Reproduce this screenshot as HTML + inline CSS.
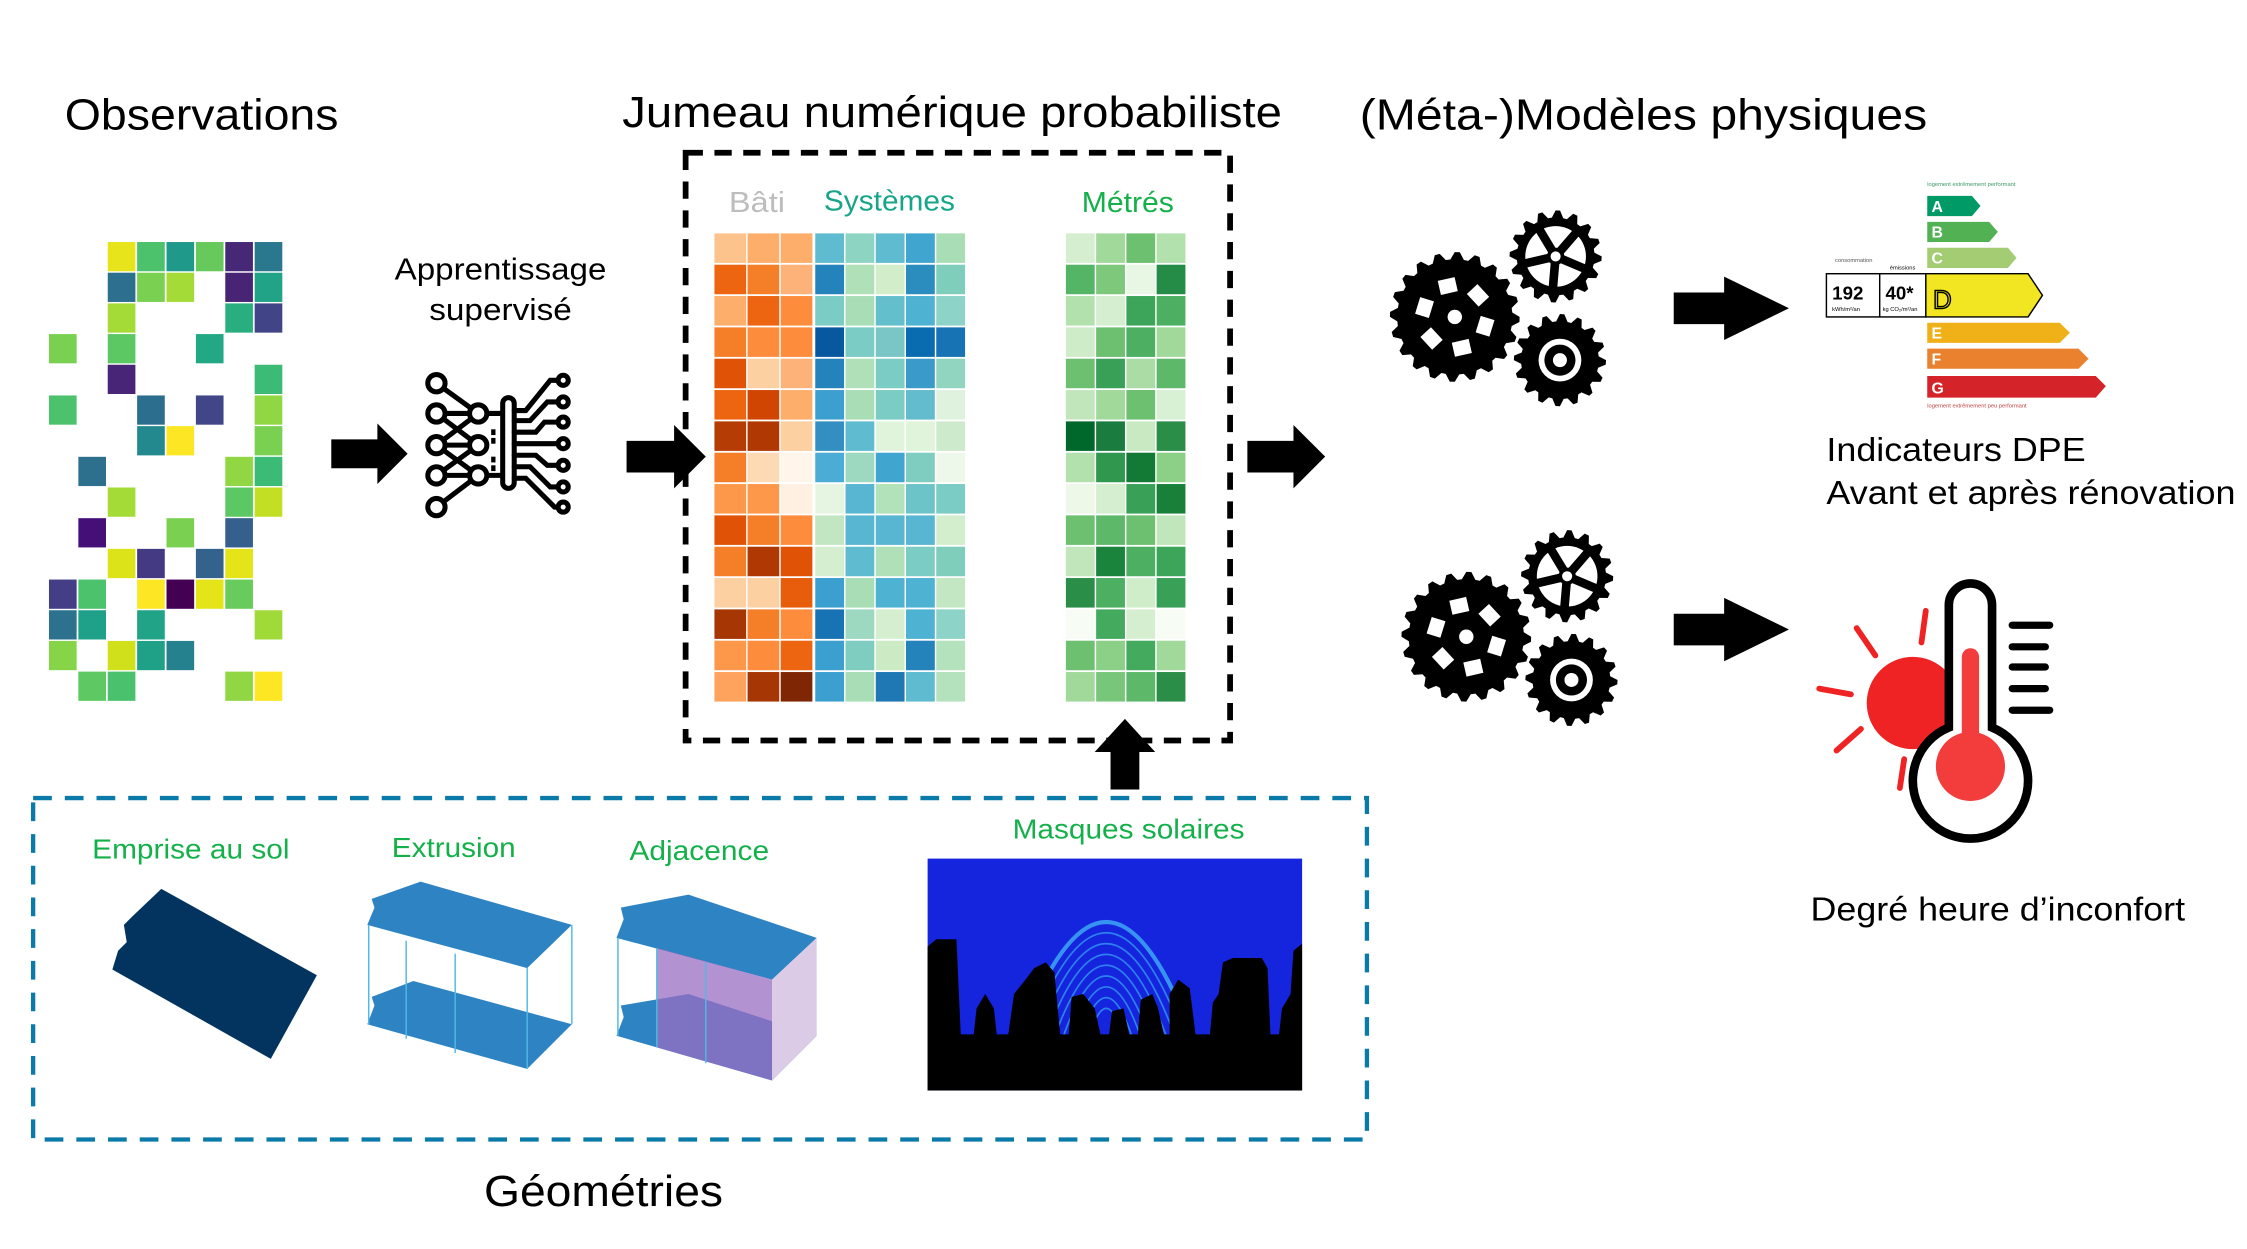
<!DOCTYPE html>
<html><head><meta charset="utf-8">
<style>
html,body{margin:0;padding:0;background:#fff;}
svg{display:block;}
text{font-family:"Liberation Sans",Arial,sans-serif;}
</style></head>
<body>
<svg id="s" width="2247" height="1249" viewBox="0 0 1560 867" preserveAspectRatio="none" xmlns="http://www.w3.org/2000/svg">
<rect width="1560" height="867" fill="#fff"/>
<!-- titles -->
<text x="45" y="90" font-size="30" textLength="190" lengthAdjust="spacingAndGlyphs">Observations</text>
<text x="432" y="88" font-size="30" textLength="458" lengthAdjust="spacingAndGlyphs">Jumeau numérique probabiliste</text>
<text x="944" y="90" font-size="30" textLength="394" lengthAdjust="spacingAndGlyphs">(Méta-)Modèles physiques</text>

<g id="obs"></g>
<g id="heat"></g>

<!-- dashed black box -->
<rect x="476" y="106" width="378" height="408" fill="none" stroke="#000" stroke-width="4" stroke-dasharray="12,8"/>
<text x="506" y="147" font-size="20" fill="#bdbdbd" textLength="39" lengthAdjust="spacingAndGlyphs">Bâti</text>
<text x="572" y="146" font-size="20" fill="#17a589" textLength="91" lengthAdjust="spacingAndGlyphs">Systèmes</text>
<text x="751" y="147" font-size="20" fill="#14b04a" textLength="64" lengthAdjust="spacingAndGlyphs">Métrés</text>

<!-- apprentissage -->
<text x="274" y="194" font-size="21" textLength="147" lengthAdjust="spacingAndGlyphs">Apprentissage</text>
<text x="298" y="222" font-size="21" textLength="99" lengthAdjust="spacingAndGlyphs">supervisé</text>

<!-- NN icon -->
<g stroke="#000" stroke-width="3.5" fill="none" stroke-linecap="round">
<line x1="303" y1="266" x2="332" y2="287"/>
<line x1="303" y1="352" x2="332" y2="330"/>
<line x1="303" y1="287" x2="332" y2="309"/><line x1="303" y1="309" x2="332" y2="287"/>
<line x1="303" y1="309" x2="332" y2="330"/><line x1="303" y1="330" x2="332" y2="309"/>
<line x1="303" y1="287" x2="332" y2="287"/><line x1="303" y1="309" x2="332" y2="309"/><line x1="303" y1="330" x2="332" y2="330"/>
<line x1="332" y1="287" x2="353" y2="287"/><line x1="332" y1="330" x2="353" y2="330"/>
<rect x="349" y="276" width="8" height="63" rx="4" fill="#fff"/>
<polyline points="357,285 365,285 382,264 390,264"/>
<polyline points="357,292 368,292 380,279 390,279"/>
<polyline points="357,300 372,300 378,293 390,293"/>
<polyline points="357,308 390,308"/>
<polyline points="357,316 372,316 380,323 390,323"/>
<polyline points="357,324 368,324 382,338 390,338"/>
<polyline points="357,332 365,332 385,352 390,352"/>
<g fill="#fff">
<circle cx="303" cy="266" r="6"/><circle cx="303" cy="287" r="6"/><circle cx="303" cy="309" r="6"/><circle cx="303" cy="330" r="6"/><circle cx="303" cy="352" r="6"/>
<circle cx="332" cy="287" r="6"/><circle cx="332" cy="309" r="6"/><circle cx="332" cy="330" r="6"/>
<circle cx="391" cy="264" r="3.5"/><circle cx="391" cy="279" r="3.5"/><circle cx="391" cy="293" r="3.5"/><circle cx="391" cy="308" r="3.5"/><circle cx="391" cy="323" r="3.5"/><circle cx="391" cy="338" r="3.5"/><circle cx="391" cy="352" r="3.5"/>
</g></g>
<rect x="341" y="298" width="3" height="4"/><rect x="341" y="304" width="3" height="4"/><rect x="341" y="317" width="3" height="4"/><rect x="341" y="323" width="3" height="4"/>

<!-- arrows -->
<g fill="#000">
<polygon points="230,305 262,305 262,294 283,315 262,336 262,325 230,325"/>
<polygon points="435,306 468,306 468,295 490,317 468,339 468,328 435,328"/>
<polygon points="866,306 898,306 898,295 920,317 898,339 898,328 866,328"/>
<polygon points="771,548 771,522 760,522 781,499 802,522 791,522 791,548"/>
<polygon points="1162,203 1197,203 1197,192 1242,214 1197,236 1197,225 1162,225"/>
<polygon points="1162,426 1197,426 1197,415 1242,437 1197,459 1197,448 1162,448"/>
</g>

<!-- blue dashed box -->
<rect x="23" y="554" width="926" height="237" fill="none" stroke="#0a7ba8" stroke-width="3" stroke-dasharray="13,9"/>
<text x="64" y="596" font-size="19" fill="#14b04a" textLength="137" lengthAdjust="spacingAndGlyphs">Emprise au sol</text>
<text x="272" y="595" font-size="19" fill="#14b04a" textLength="86" lengthAdjust="spacingAndGlyphs">Extrusion</text>
<text x="437" y="597" font-size="19" fill="#14b04a" textLength="97" lengthAdjust="spacingAndGlyphs">Adjacence</text>
<text x="703" y="582" font-size="19" fill="#14b04a" textLength="161" lengthAdjust="spacingAndGlyphs">Masques solaires</text>
<text x="336" y="837" font-size="30" textLength="166" lengthAdjust="spacingAndGlyphs">Géométries</text>

<!-- emprise -->
<polygon points="112,617 220,677 188,735 78,673 82,660 88,654 86,642 92,636" fill="#03345f"/>
<!-- extrusion -->
<g>
<polygon points="292,612 397,642 366,672 255,642 260,630 258,624" fill="#2e84c3"/>
<polygon points="287,681 397,711 366,742 255,711 260,698 258,692" fill="#2e84c3"/>
<g stroke="#4fb8e6" stroke-width="1" fill="none">
<line x1="256" y1="642" x2="256" y2="711"/><line x1="282" y1="653" x2="282" y2="721"/><line x1="316" y1="662" x2="316" y2="731"/>
<line x1="366" y1="672" x2="366" y2="742"/><line x1="397" y1="642" x2="397" y2="711"/>
</g></g>
<!-- adjacence -->
<g>
<polygon points="478,621 567,651 536,680 428,651 433,638 431,630" fill="#2e84c3"/>
<polygon points="478,690 567,719 536,750 428,719 433,706 431,698" fill="#2e84c3"/>
<polygon points="456,658 536,680 536,750 456,727" fill="#9a6ec2" opacity="0.75"/>
<polygon points="536,680 567,651 567,719 536,750" fill="#dccbe6"/>
<g stroke="#4fb8e6" stroke-width="1" fill="none">
<line x1="429" y1="651" x2="429" y2="719"/><line x1="456" y1="658" x2="456" y2="727"/><line x1="490" y1="668" x2="490" y2="738"/>
</g></g>

<!-- masques solaires -->
<rect x="644" y="596" width="260" height="161" fill="#1524dd"/>
<g fill="none" stroke="#2f8cf0" stroke-width="1.2" opacity="0.9">
<path d="M708,720 Q768,560 828,720" stroke-width="3" stroke="#3aa0f5"/>
<path d="M714,720 Q768,575 822,720"/><path d="M720,720 Q768,590 816,720"/><path d="M726,720 Q768,605 810,720"/><path d="M732,720 Q768,620 804,720"/><path d="M738,720 Q768,635 798,720"/><path d="M744,720 Q768,650 792,720"/><path d="M750,720 Q768,665 786,720"/><path d="M756,720 Q768,680 780,720"/>
</g>
<polygon fill="#000" points="644,757 644,657 650,652 664,652 667,718 676,718 678,700 684,690 690,700 692,718 700,718 704,690 712,680 718,672 726,668 732,675 736,718 742,718 744,692 752,690 760,700 764,718 770,718 772,702 780,700 784,718 790,718 792,694 800,690 804,700 808,718 812,718 812,690 818,680 826,686 830,718 840,718 842,696 846,690 849,668 856,665 876,665 880,672 882,718 888,718 890,700 896,690 898,660 904,655 904,757"/>

<!-- gears -->
<g id="gears1"></g>

<!-- DPE -->
<g font-weight="bold" font-size="11" fill="#fff">
<text x="1338" y="129" font-size="4" fill="#3a9a6a" font-weight="normal">logement extrêmement performant</text>
<polygon points="1338,136 1369,136 1375,143 1369,150 1338,150" fill="#009a66"/><text x="1341" y="147">A</text>
<polygon points="1338,154 1381,154 1387,161 1381,168 1338,168" fill="#52b153"/><text x="1341" y="165">B</text>
<polygon points="1338,172 1394,172 1400,179 1394,186 1338,186" fill="#a3cc73"/><text x="1341" y="183">C</text>
<polygon points="1337,190 1408,190 1418,205 1408,220 1337,220" fill="#f2e521" stroke="#000" stroke-width="1"/>
<text x="1342" y="214" font-size="18" fill="#f2e521" stroke="#000" stroke-width="1" font-weight="normal">D</text>
<polygon points="1338,224 1430,224 1437,231 1430,238 1338,238" fill="#f0b018"/><text x="1341" y="235">E</text>
<polygon points="1338,242 1443,242 1450,249 1443,256 1338,256" fill="#e9812f"/><text x="1341" y="253">F</text>
<polygon points="1338,261 1455,261 1462,268 1455,276 1338,276" fill="#d5232a"/><text x="1341" y="273">G</text>
<text x="1338" y="283" font-size="4" fill="#c04040" font-weight="normal">logement extrêmement peu performant</text>
<rect x="1268" y="190" width="69" height="30" fill="#fff" stroke="#000" stroke-width="1"/>
<line x1="1305" y1="190" x2="1305" y2="220" stroke="#000" stroke-width="1"/>
<text x="1272" y="208" font-size="13" fill="#000">192</text><text x="1309" y="208" font-size="13" fill="#000">40*</text>
<text x="1272" y="216" font-size="4" fill="#000" font-weight="normal">kWh/m²/an</text><text x="1307" y="216" font-size="4" fill="#000" font-weight="normal">kg CO₂/m²/an</text>
<text x="1274" y="182" font-size="4" fill="#555" font-weight="normal">consommation</text><text x="1312" y="187" font-size="4" fill="#000" font-weight="normal">émissions</text>
</g>
<text x="1268" y="320" font-size="23" textLength="180" lengthAdjust="spacingAndGlyphs">Indicateurs DPE</text>
<text x="1268" y="350" font-size="23" textLength="284" lengthAdjust="spacingAndGlyphs">Avant et après rénovation</text>

<!-- thermometer -->
<g>
<circle cx="1328" cy="488" r="32" fill="#ef2323"/>
<rect x="1350" y="450" width="20" height="80" fill="#fff"/>
<g stroke="#ef2323" stroke-width="4" stroke-linecap="round">
<line x1="1263" y1="478" x2="1285" y2="482"/><line x1="1289" y1="436" x2="1302" y2="455"/><line x1="1337" y1="424" x2="1334" y2="446"/>
<line x1="1275" y1="521" x2="1292" y2="506"/><line x1="1322" y1="527" x2="1319" y2="547"/>
</g>
<path d="M1353,420 A15,15 0 0 1 1383,420 L1383,505 A40,40 0 1 1 1353,505 Z" fill="#fff" stroke="#000" stroke-width="6"/>
<rect x="1362" y="450" width="12" height="70" rx="6" fill="#f33c3c"/>
<circle cx="1368" cy="532" r="24" fill="#f33c3c"/>
<g stroke="#000" stroke-width="5" stroke-linecap="round">
<line x1="1397" y1="434" x2="1423" y2="434"/><line x1="1397" y1="449" x2="1420" y2="449"/><line x1="1397" y1="463" x2="1420" y2="463"/><line x1="1397" y1="478" x2="1420" y2="478"/><line x1="1397" y1="493" x2="1423" y2="493"/>
</g></g>
<text x="1257" y="639" font-size="23" textLength="260" lengthAdjust="spacingAndGlyphs">Degré heure d’inconfort</text>
</svg>
<script>
var NS="http://www.w3.org/2000/svg",s=document.getElementById('s');
function R(g,x,y,w,h,c){var r=document.createElementNS(NS,'rect');r.setAttribute('x',x);r.setAttribute('y',y);r.setAttribute('width',w);r.setAttribute('height',h);r.setAttribute('fill',c);g.appendChild(r);}
var obs={0:{2:'#e8e41b',3:'#4cc26c',4:'#1f9a8a',5:'#67c95c',6:'#472877',7:'#2a788e'},1:{2:'#2c6f8e',3:'#7ad151',4:'#a5db36',6:'#482475',7:'#20a386'},2:{2:'#a5db36',6:'#29af7f',7:'#414487'},3:{0:'#7ad151',2:'#5cc863',5:'#22a884'},4:{2:'#482576',7:'#3bbb75'},5:{0:'#4cc26c',3:'#2c6e8e',5:'#404688',7:'#90d743'},6:{3:'#23898e',4:'#fde725',7:'#7ad151'},7:{1:'#2d708e',6:'#90d743',7:'#3bbb75'},8:{2:'#a5db36',6:'#5cc863',7:'#c2df23'},9:{1:'#440f76',4:'#7ad151',6:'#355f8d'},10:{2:'#dce319',3:'#443983',5:'#33638d',6:'#e5e419'},11:{0:'#433e85',1:'#4cc26c',3:'#fde725',4:'#440154',5:'#e5e419',6:'#67cc5c'},12:{0:'#2c728e',1:'#1fa088',3:'#20a386',7:'#a0da39'},13:{0:'#86d549',2:'#d0e11c',3:'#1fa187',4:'#26818e'},14:{1:'#5ec962',2:'#4ac16d',6:'#90d743',7:'#fde725'}};
var g=document.getElementById('obs');
for(var r in obs)for(var c in obs[r])R(g,34+c*20.4,168+r*21.3,19.2,20.3,obs[r][c]);
var O=["#fdc38d #fdae6b #fdae6b","#ee6511 #f57f29 #fdb27a","#fdae6b #ee6511 #fd8d3c","#f57f29 #fd8d3c #fd8d3c","#e05206 #fdd0a2 #fdb27a","#ee6511 #d04501 #fdae6b","#b53c04 #b03903 #fdd0a2","#f57f29 #fdd9b4 #fff5eb","#fd984a #fd984a #fff0e1","#e05206 #f57f29 #fd8d3c","#f57f29 #b03903 #e05206","#fdd0a2 #fdd0a2 #e85d0c","#a63603 #f57f29 #fd8d3c","#fd984a #fd8d3c #ee6511","#fda35e #a63603 #7f2704"];
var B=["#5fbcd0 #8ed4c2 #5fbcd0 #41a6cf #a8ddb5","#2383ba #b0e0b8 #d1edc9 #2b8cbe #7fcdbb","#7accc4 #a8ddb5 #64bfcc #4eb3d3 #8dd3c7","#0858a0 #7accc4 #7ac6c6 #0a6cb0 #1873b4","#2383ba #b0e0b8 #7accc4 #3a9bca #91d5c0","#3b9fd0 #a8ddb5 #7accc4 #62bcce #dff2de","#338fc2 #5fbcd0 #e0f3db #e0f3db #cdebcc","#4bacd6 #9cd9c0 #41a6cf #7fcdc0 #eef8ea","#e6f5e1 #59b6d2 #b2e2ba #6cc4c8 #7accc4","#c2e6c2 #59b6d2 #59b6d2 #59b6d2 #d3eecd","#d4eecf #5fbcd0 #b0e0b8 #7accc4 #7fcdbb","#3b9fd0 #a8ddb5 #4eb3d3 #4eb3d3 #c3e7c2","#1873b4 #9cd9c0 #d4eecf #4eb3d3 #8dd3c7","#3b9fd0 #7fcdc0 #ccebc5 #2383ba #b3e2bd","#3b9fd0 #a8ddb5 #1f78b4 #5fbcd0 #b3e2bd"];
var G=["#d4eecf #a1d99b #6cc070 #b3e1ae","#55b567 #7dc87a #e8f6e4 #248c46","#b3e1ae #d4eecf #3ca55a #4daf62","#cfecc9 #6cc070 #4daf62 #a1d99b","#6cc070 #39a057 #acdca6 #5eb86a","#c2e6bb #a1d99b #6cc070 #d8f0d3","#00682a #1a7c3e #c8e9c2 #2a8d48","#b3e1ae #2f974e #137a36 #8ccf87","#edf8e9 #d4eecf #39a057 #19803a","#6cc070 #5eb86a #6cc070 #c2e6bb","#c2e6bb #1a843c #4daf62 #3ca55a","#2a8d48 #4daf62 #d0edca #39a057","#f7fcf5 #44ab5e #d4eecf #f7fcf5","#6cc070 #8ccf87 #44ab5e #a1d99b","#a1d99b #78c679 #5eb86a #2a8d48"];
var h=document.getElementById('heat');
for(var r=0;r<15;r++){var y=162+r*21.75;
O[r].split(' ').forEach(function(c,i){R(h,496+i*23,y,22,20.5,c);});
B[r].split(' ').forEach(function(c,i){R(h,566+i*21,y,20,20.5,c);});
G[r].split(' ').forEach(function(c,i){R(h,740+i*21,y,20,20.5,c);});}
function gear(p,cx,cy,rad,teeth,type){
 var d='',n=teeth*2;
 for(var i=0;i<n*2;i++){var a=i/(n*2)*2*Math.PI;var rr=(Math.floor(i/2)%2==0)?rad+5:rad;d+=(i?'L':'M')+(cx+rr*Math.cos(a)).toFixed(1)+','+(cy+rr*Math.sin(a)).toFixed(1);}
 var e=document.createElementNS(NS,'path');e.setAttribute('d',d+'Z');e.setAttribute('fill','#000');p.appendChild(e);
 function C(r,f){var c=document.createElementNS(NS,'circle');c.setAttribute('cx',cx);c.setAttribute('cy',cy);c.setAttribute('r',r);c.setAttribute('fill',f);p.appendChild(c);}
 if(type==0){for(var k=0;k<6;k++){var a=k*Math.PI/3+0.3;var q=document.createElementNS(NS,'rect');q.setAttribute('x',-5);q.setAttribute('y',-6);q.setAttribute('width',10);q.setAttribute('height',12);q.setAttribute('fill','#fff');q.setAttribute('transform','translate('+(cx+rad*0.55*Math.cos(a))+','+(cy+rad*0.55*Math.sin(a))+') rotate('+(a*180/Math.PI)+')');p.appendChild(q);}C(5,'#fff');}
 if(type==1){C(rad*0.78,'#fff');for(var k=0;k<5;k++){var a=k*2*Math.PI/5+0.4;var l=document.createElementNS(NS,'line');l.setAttribute('x1',cx);l.setAttribute('y1',cy);l.setAttribute('x2',cx+rad*0.8*Math.cos(a));l.setAttribute('y2',cy+rad*0.8*Math.sin(a));l.setAttribute('stroke','#000');l.setAttribute('stroke-width',6);p.appendChild(l);}C(6,'#000');C(3.5,'#fff');}
 if(type==2){C(rad*0.55,'#fff');C(rad*0.4,'#000');C(rad*0.18,'#fff');}
}
var gg=document.getElementById('gears1');
[[0,0],[8,222]].forEach(function(o){
 gear(gg,1080+o[0],178+o[1],27,16,1);
 gear(gg,1010+o[0],220+o[1],40,20,0);
 gear(gg,1083+o[0],250+o[1],27,16,2);
});
</script>
</body></html>
